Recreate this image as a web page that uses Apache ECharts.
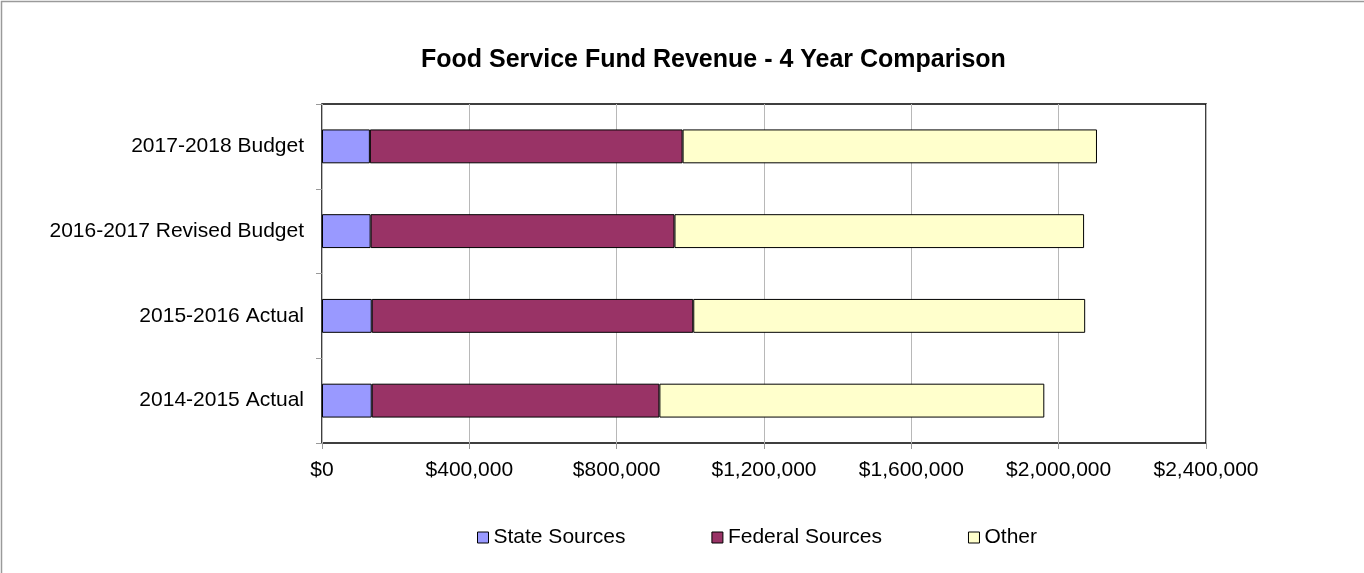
<!DOCTYPE html>
<html>
<head>
<meta charset="utf-8">
<title>Food Service Fund Revenue - 4 Year Comparison</title>
<script src="https://cdn.jsdelivr.net/npm/echarts@6/dist/echarts.min.js"></script>
<style>
  html, body { margin: 0; padding: 0; background: #fff; }
  #chart { width: 1364px; height: 573px; }
</style>
</head>
<body>
<div id="chart"></div>
<script>
// Fiscal years, listed bottom to top as the category axis draws them
const categories = ['2014-2015 Actual', '2015-2016 Actual', '2016-2017 Revised Budget', '2017-2018 Budget'];

// Revenue by source, in dollars
const stateSources = [135000, 135000, 132000, 130000];
const federalSources = [781000, 873000, 825000, 849000];
const otherSources = [1045000, 1064000, 1112000, 1125000];

// Value axis range
const axisMin = 0;
const axisMax = 2400000;
const axisStep = 400000;

const FONT = '"Liberation Sans", Arial, sans-serif';

const chart = echarts.init(document.getElementById('chart'), null, { renderer: 'canvas' });

function money(v) {
  return '$' + Number(v).toLocaleString('en-US');
}

const barStyle = (color) => ({ color: color, borderColor: '#000', borderWidth: 1 });

chart.setOption({
  backgroundColor: '#fff',
  animation: false,
  textStyle: { fontFamily: FONT },
  title: {
    text: 'Food Service Fund Revenue - 4 Year Comparison',
    left: 416,
    top: 43,
    textStyle: { fontFamily: FONT, fontSize: 25, fontWeight: 'bold', color: '#000' }
  },
  graphic: [{
    type: 'rect',
    shape: { x: 1.5, y: 1.5, width: 1400, height: 600 },
    style: { fill: null, stroke: '#9a9a9a', lineWidth: 1.5 },
    silent: true
  }],
  legend: {
    left: 472,
    top: 522,
    itemWidth: 11,
    itemHeight: 11,
    itemGap: 86,
    icon: 'rect',
    itemStyle: { borderColor: '#000', borderWidth: 1 },
    textStyle: { fontFamily: FONT, fontSize: 21, color: '#000', padding: [0, 0, 0, 0] },
    data: ['State Sources', 'Federal Sources', 'Other']
  },
  grid: {
    left: 322,
    top: 104,
    right: 158,
    bottom: 130,
    show: true,
    borderColor: '#000',
    borderWidth: 1.5,
    backgroundColor: '#fff'
  },
  xAxis: {
    type: 'value',
    min: axisMin,
    max: axisMax,
    interval: axisStep,
    axisLine: { show: false },
    axisTick: { show: true, inside: false, length: 6, lineStyle: { color: '#999', width: 1 } },
    splitLine: { show: true, lineStyle: { color: '#b8b8b8', width: 1 } },
    axisLabel: {
      margin: 17,
      formatter: money,
      fontFamily: FONT,
      fontSize: 21,
      color: '#000'
    }
  },
  yAxis: {
    type: 'category',
    data: categories,
    axisLine: { show: false },
    axisTick: { show: true, inside: false, length: 6, lineStyle: { color: '#999', width: 1 } },
    splitLine: { show: false },
    axisLabel: {
      margin: 18,
      fontFamily: FONT,
      fontSize: 21,
      color: '#000'
    }
  },
  series: [
    {
      name: 'State Sources',
      type: 'bar',
      stack: 'revenue',
      barWidth: '40%',
      itemStyle: barStyle('#9999ff'),
      data: stateSources
    },
    {
      name: 'Federal Sources',
      type: 'bar',
      stack: 'revenue',
      barWidth: '40%',
      itemStyle: barStyle('#993366'),
      data: federalSources
    },
    {
      name: 'Other',
      type: 'bar',
      stack: 'revenue',
      barWidth: '40%',
      itemStyle: barStyle('#ffffcc'),
      data: otherSources
    }
  ]
});
</script>
</body>
</html>
